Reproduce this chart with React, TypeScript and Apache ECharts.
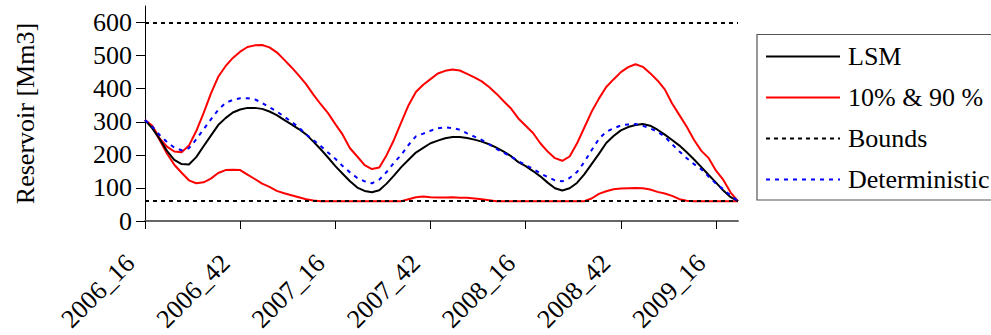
import React, { useEffect, useRef } from "react";
import * as echarts from "echarts";

// Biweekly time axis, year_week labels starting at 2006_16
const START_YEAR = 2006;
const START_WEEK = 16;
const N_POINTS = 82;
const categories: string[] = (() => {
  const out: string[] = [];
  let y = START_YEAR;
  let w = START_WEEK;
  for (let i = 0; i < N_POINTS; i++) {
    out.push(`${y}_${w}`);
    w += 2;
    if (w > 52) {
      w -= 52;
      y += 1;
    }
  }
  return out;
})();

const yTickValues = [0, 100, 200, 300, 400, 500, 600];
const bounds = [60, 600];

const lsm = [
  305, 280, 248, 212, 185, 172, 171, 193, 226, 258, 290, 311, 328, 337, 342, 342, 339, 331, 320, 306,
  292, 278, 262, 240, 217, 192, 166, 143, 120, 101, 91, 87, 93, 113, 137, 163, 185, 207, 221, 235,
  243, 250, 254, 254, 251, 246, 240, 232, 222, 210, 196, 178, 166, 151, 135, 116, 99, 92, 99, 115,
  141, 172, 203, 236, 257, 274, 284, 290, 293, 288, 276, 261, 245, 228, 208, 186, 163, 139, 116, 92,
  72, 60,
];

const p90 = [
  305, 288, 250, 225, 210, 208, 228, 272, 326, 385, 436, 468, 493, 512, 526, 531, 532, 525, 510, 488,
  465, 440, 414, 382, 353, 326, 293, 261, 220, 195, 169, 157, 162, 199, 245, 298, 350, 390, 412, 429,
  446, 454, 458, 455, 445, 434, 422, 405, 385, 362, 340, 310, 288, 266, 235, 210, 190, 182, 195, 234,
  282, 330, 370, 405, 428, 450, 465, 474, 466, 447, 425, 398, 355, 320, 285, 245, 212, 190, 152, 124,
  86, 60,
];

const p10 = [
  305, 286, 245, 204, 170, 146, 123, 114, 117, 128, 145, 154, 155, 154, 140, 127, 113, 103, 91, 84,
  78, 72, 66, 62, 60, 60, 60, 60, 60, 60, 60, 60, 60, 60, 60, 60, 66, 72, 74, 72,
  71, 71, 72, 70, 70, 68, 66, 63, 60, 60, 60, 60, 60, 60, 60, 60, 60, 60, 60, 60,
  60, 68, 82, 90, 96, 98, 99, 100, 99, 95, 88, 83, 76, 66, 61, 60, 60, 60, 60, 60,
  60, 60,
];

const deterministic = [
  305, 285, 260, 239, 222, 214, 220, 247, 277, 307, 336, 357, 366, 371, 371, 368, 357, 344, 331, 316,
  300, 283, 262, 245, 227, 207, 188, 166, 147, 130, 120, 114, 125, 148, 176, 200, 230, 256, 264, 273,
  280, 283, 281, 276, 265, 255, 245, 232, 218, 206, 195, 181, 169, 158, 144, 133, 123, 120, 130, 148,
  178, 214, 248, 270, 280, 289, 292, 293, 288, 280, 270, 255, 232, 210, 190, 172, 156, 134, 113, 96,
  77, 60,
];

const FONT = "Liberation Serif";
const FS = 26;

export default function App() {
  const ref = useRef<HTMLDivElement>(null);

  useEffect(() => {
    if (!ref.current) return;
    const chart = echarts.init(ref.current, undefined, { renderer: "svg" });
    const redStyle = { color: "#FF0000", width: 2, type: "solid" as const };
    chart.setOption({
      animation: false,
      backgroundColor: "#ffffff",
      textStyle: { fontFamily: FONT, fontSize: FS, color: "#000" },
      grid: {
        left: 145,
        right: 253,
        top: 6,
        bottom: 114,
        containLabel: false,
        outerBoundsMode: "none",
      },
      graphic: [
        {
          type: "rect",
          shape: { x: 757, y: 34.5, width: 260, height: 165.5 },
          style: { fill: "none", stroke: "#555", lineWidth: 1.2 },
          z: 0,
        },
      ],
      legend: {
        orient: "vertical",
        left: 765,
        top: 43.5,
        itemWidth: 74,
        itemHeight: 26,
        itemGap: 15,
        padding: 0,
        itemStyle: { opacity: 0 },
        data: ["LSM", "10% & 90 %", "Bounds", "Deterministic"],
        textStyle: { fontFamily: FONT, fontSize: FS, color: "#000", padding: [0, 0, 0, 3] },
      },
      xAxis: {
        type: "category",
        data: categories,
        boundaryGap: false,
        axisLine: { show: true, lineStyle: { color: "#666", width: 2 } },
        axisTick: { show: true, interval: 12, length: 8, lineStyle: { color: "#000", width: 1 } },
        axisLabel: {
          interval: 12,
          rotate: 45,
          margin: 23,
          fontFamily: FONT,
          fontSize: FS,
          color: "#000",
          padding: [0, 21, 0, 0],
        },
        splitLine: { show: false },
      },
      yAxis: {
        type: "value",
        min: 0,
        max: 650,
        interval: 100,
        name: "Reservoir [Mm3]",
        nameLocation: "middle",
        nameGap: 107,
        nameRotate: 90,
        nameTextStyle: { fontFamily: FONT, fontSize: FS, color: "#000" },
        axisLine: { show: true, lineStyle: { color: "#000", width: 1 } },
        axisTick: { show: true, length: 9, customValues: yTickValues, lineStyle: { color: "#000" } },
        axisLabel: {
          customValues: yTickValues,
          margin: 13,
          fontFamily: FONT,
          fontSize: FS,
          color: "#000",
        },
        splitLine: { show: false },
      },
      series: [
        {
          name: "10% & 90 %",
          type: "line",
          data: p90,
          symbol: "none",
          lineStyle: redStyle,
          itemStyle: { color: "#FF0000" },
          z: 2,
        },
        {
          name: "10% & 90 %",
          type: "line",
          data: p10,
          symbol: "none",
          lineStyle: redStyle,
          itemStyle: { color: "#FF0000" },
          z: 2,
        },
        {
          name: "LSM",
          type: "line",
          data: lsm,
          symbol: "none",
          lineStyle: { color: "#000", width: 2 },
          itemStyle: { color: "#000" },
          z: 3,
        },
        {
          name: "Bounds",
          type: "line",
          data: [],
          symbol: "none",
          lineStyle: { color: "#000", width: 2, type: [4, 4] },
          itemStyle: { color: "#000" },
          z: 4,
          markLine: {
            silent: true,
            symbol: "none",
            label: { show: false },
            lineStyle: { color: "#000", width: 2, type: [4, 4] },
            data: bounds.map((b) => ({ yAxis: b })),
          },
        },
        {
          name: "Deterministic",
          type: "line",
          data: deterministic,
          symbol: "none",
          lineStyle: { color: "#0000FF", width: 2, type: [4, 5] },
          itemStyle: { color: "#0000FF" },
          z: 5,
        },
      ],
    });
    return () => chart.dispose();
  }, []);

  return (
    <div
      ref={ref}
      style={{ position: "fixed", left: 0, top: 0, width: 991, height: 335, background: "#fff" }}
    />
  );
}
